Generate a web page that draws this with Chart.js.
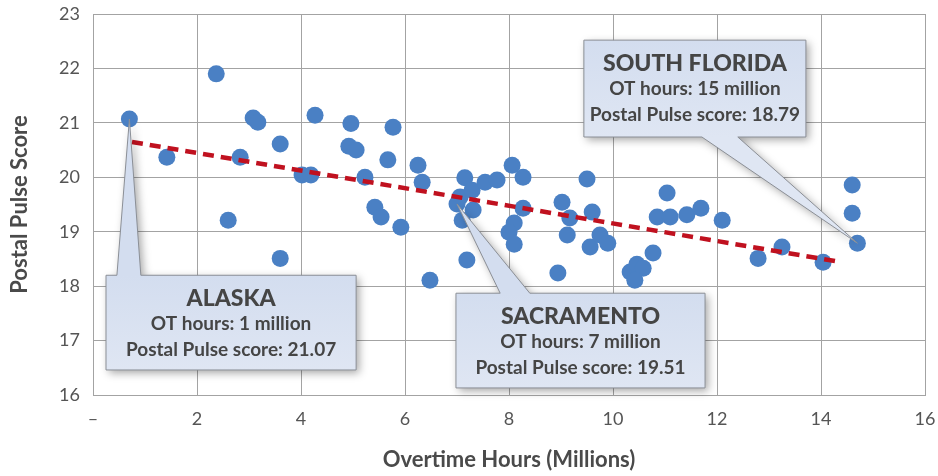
<!DOCTYPE html>
<html>
<head>
<meta charset="utf-8">
<script src="https://cdn.jsdelivr.net/npm/chart.js@4/dist/chart.umd.min.js"></script>
<style>
  html, body { margin: 0; padding: 0; background: #fff; }
  #wrap { width: 938px; height: 476px; position: relative; }
</style>
</head>
<body>
<div id="wrap"><canvas id="chart" width="938" height="476"></canvas></div>
<script>
// overtime hours (millions) and Postal Pulse score per district
const overtimeHours = [
  0.7, 1.42, 2.37, 2.60, 2.83, 3.08, 3.17, 3.60, 3.60, 4.02, 4.19, 4.27, 4.92, 4.96,
  5.06, 5.23, 5.42, 5.54, 5.67, 5.77, 5.92, 6.25, 6.33, 6.48, 7.15, 7.06, 7.0, 7.31,
  7.10, 7.29, 7.54, 7.77, 7.19, 8.06, 8.27, 8.27, 8.10, 8.00, 8.10, 8.94, 9.02, 9.17,
  9.12, 9.50, 9.60, 9.56, 9.75, 9.90, 10.33, 10.46, 10.58, 10.42, 10.77, 11.04, 10.85,
  11.10, 11.42, 11.69, 12.10, 12.79, 13.25, 14.04, 14.60, 14.60, 14.7
];
const pulseScores = [
  21.07, 20.37, 21.90, 19.21, 20.37, 21.09, 21.01, 20.61, 18.51, 20.04, 20.04, 21.14, 20.57, 20.99,
  20.50, 20.00, 19.45, 19.27, 20.32, 20.92, 19.08, 20.22, 19.91, 18.11, 19.99, 19.64, 19.51, 19.40,
  19.21, 19.76, 19.91, 19.95, 18.48, 20.22, 20.00, 19.43, 19.16, 18.99, 18.77, 18.24, 19.54, 19.25,
  18.94, 19.97, 19.36, 18.72, 18.94, 18.79, 18.26, 18.40, 18.33, 18.11, 18.61, 19.71, 19.27,
  19.27, 19.31, 19.43, 19.21, 18.51, 18.72, 18.44, 19.86, 19.34, 18.79
];

// trend line end points
const trendX = [0.75, 14.4];
const trendY = [20.65, 18.44];

// highlighted districts
const calloutNames = ['ALASKA', 'SACRAMENTO', 'SOUTH FLORIDA'];
const calloutHours = [0.7, 7.0, 14.7];
const calloutLabelHours = [1, 7, 15];
const calloutScores = [21.07, 19.51, 18.79];

const xTicks = [0, 2, 4, 6, 8, 10, 12, 14, 16];
const yTicks = [16, 17, 18, 19, 20, 21, 22, 23];

// callout box layout, in axis units: [left, right, top, bottom], pointer base x1/x2
const calloutLayout = [
  { box: [0.25, 5.06, 18.20, 16.46], base: [0.46, 0.92], side: 'top' },
  { box: [6.98, 11.77, 17.87, 16.13], base: [7.83, 8.40], side: 'top' },
  { box: [9.44, 13.71, 22.52, 20.74], base: [11.71, 12.40], side: 'bottom' }
];

const points = overtimeHours.map((x, i) => ({ x: x, y: pulseScores[i] }));
const trend = trendX.map((x, i) => ({ x: x, y: trendY[i] }));

const calloutPlugin = {
  id: 'callouts',
  afterDraw(chart) {
    const ctx = chart.ctx;
    const xs = chart.scales.x;
    const ys = chart.scales.y;
    calloutLayout.forEach((c, i) => {
      const l = xs.getPixelForValue(c.box[0]);
      const r = xs.getPixelForValue(c.box[1]);
      const t = ys.getPixelForValue(c.box[2]);
      const b = ys.getPixelForValue(c.box[3]);
      const b1 = xs.getPixelForValue(c.base[0]);
      const b2 = xs.getPixelForValue(c.base[1]);
      const tx = xs.getPixelForValue(calloutHours[i]);
      const ty = ys.getPixelForValue(calloutScores[i]);

      ctx.save();
      ctx.beginPath();
      if (c.side === 'top') {
        ctx.moveTo(l, t);
        ctx.lineTo(b1, t);
        ctx.lineTo(tx, ty);
        ctx.lineTo(b2, t);
        ctx.lineTo(r, t);
        ctx.lineTo(r, b);
        ctx.lineTo(l, b);
      } else {
        ctx.moveTo(l, t);
        ctx.lineTo(r, t);
        ctx.lineTo(r, b);
        ctx.lineTo(b2, b);
        ctx.lineTo(tx, ty);
        ctx.lineTo(b1, b);
        ctx.lineTo(l, b);
      }
      ctx.closePath();
      ctx.shadowColor = 'rgba(0,0,0,0.35)';
      ctx.shadowBlur = 8;
      ctx.shadowOffsetX = 3;
      ctx.shadowOffsetY = 3;
      const grad = ctx.createLinearGradient(0, t, 0, b);
      grad.addColorStop(0, '#d3ddef');
      grad.addColorStop(1, '#dfe6f3');
      ctx.fillStyle = grad;
      ctx.fill();
      ctx.shadowColor = 'transparent';
      ctx.lineWidth = 1;
      ctx.strokeStyle = '#8b8f96';
      ctx.stroke();

      const cx = (l + r) / 2;
      ctx.fillStyle = '#454545';
      ctx.textAlign = 'center';
      ctx.textBaseline = 'middle';
      ctx.font = '900 23px Lato';
      ctx.fillText(calloutNames[i], cx, t + 23);
      ctx.font = 'bold 19px Lato';
      ctx.fillText('OT hours: ' + calloutLabelHours[i] + ' million', cx, t + 49);
      ctx.fillText('Postal Pulse score: ' + calloutScores[i].toFixed(2), cx, t + 75);
      ctx.restore();
    });
  }
};

new Chart(document.getElementById('chart'), {
  type: 'scatter',
  data: {
    datasets: [
      {
        label: 'Trend',
        type: 'line',
        data: trend,
        borderColor: '#c0111f',
        borderWidth: 4.5,
        borderDash: [11, 7],
        pointRadius: 0,
        fill: false,
        order: 0
      },
      {
        label: 'Districts',
        data: points,
        backgroundColor: '#4a80c4',
        borderWidth: 0,
        pointRadius: 8.5,
        order: 1
      }
    ]
  },
  options: {
    responsive: false,
    animation: false,
    devicePixelRatio: 1,
    layout: { padding: { top: 14, right: 13, left: 0, bottom: 0 } },
    plugins: { legend: { display: false }, tooltip: { enabled: false } },
    scales: {
      x: {
        type: 'linear',
        min: 0,
        max: 16,
        afterBuildTicks: s => { s.ticks = xTicks.map(v => ({ value: v })); },
        afterFit: s => {
          s.height = 81;
          s.paddingLeft = 0;
          s.paddingRight = 0;
        },
        grid: { color: '#a3a3a3', drawTicks: false, lineWidth: 1 },
        border: { color: '#a3a3a3' },
        ticks: {
          padding: 13,
          color: '#555',
          font: { family: 'Lato', size: 18 },
          callback: v => (v === 0 ? '\u2013' : v)
        },
        title: {
          display: true,
          text: 'Overtime Hours (Millions)',
          color: '#4a4a4a',
          font: { family: 'Lato', size: 22, weight: 'bold' },
          padding: { top: 0, bottom: 3 }
        }
      },
      y: {
        type: 'linear',
        min: 16,
        max: 23,
        afterBuildTicks: s => { s.ticks = yTicks.map(v => ({ value: v })); },
        afterFit: s => {
          s.width = 93;
          s.paddingTop = 0;
          s.paddingBottom = 0;
        },
        grid: { color: '#a3a3a3', drawTicks: false, lineWidth: 1 },
        border: { color: '#a3a3a3' },
        ticks: {
          padding: 13,
          color: '#555',
          font: { family: 'Lato', size: 18 }
        },
        title: {
          display: true,
          text: 'Postal Pulse Score',
          color: '#4a4a4a',
          font: { family: 'Lato', size: 22, weight: 'bold' },
          padding: { top: 7, bottom: 0 }
        }
      }
    }
  },
  plugins: [calloutPlugin]
});
</script>
</body>
</html>
